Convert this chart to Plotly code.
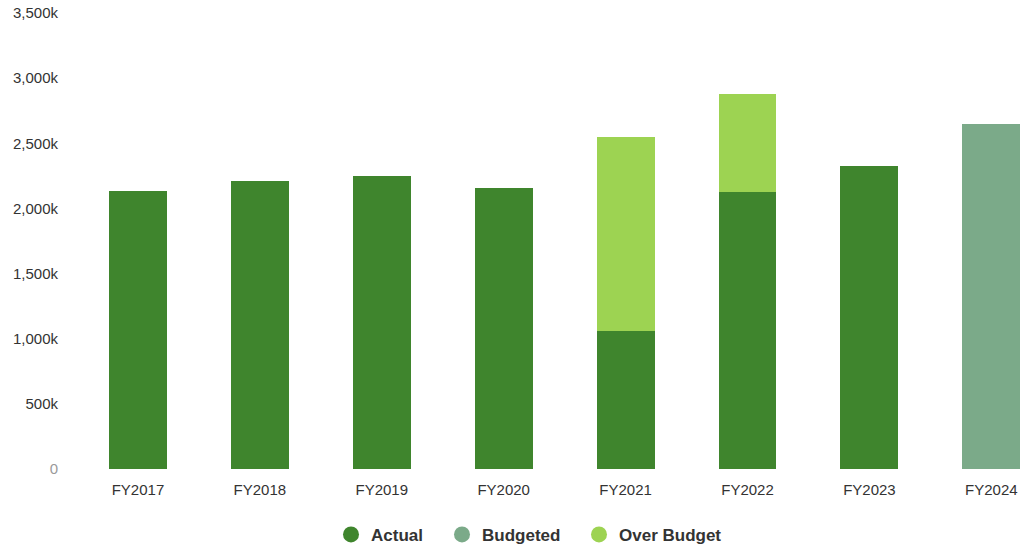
import plotly.graph_objects as go

# Fiscal years and spend (in thousands)
years = ["FY2017", "FY2018", "FY2019", "FY2020", "FY2021", "FY2022", "FY2023", "FY2024"]
actual = [2130, 2210, 2250, 2160, 1060, 2125, 2325, None]
budgeted = [None, None, None, None, None, None, None, 2645]
over_budget = [None, None, None, None, 1490, 750, None, None]

y_tick_values = [0, 500, 1000, 1500, 2000, 2500, 3000, 3500]
y_tick_labels = ["<span style='color:#9a9a9a'>0</span>", "500k", "1,000k", "1,500k",
                 "2,000k", "2,500k", "3,000k", "3,500k"]

c_actual = "#3f852d"
c_budget = "#7baa89"
c_over = "#9dd352"

series = [("Actual", actual, c_actual, "legend"),
          ("Budgeted", budgeted, c_budget, "legend2"),
          ("Over Budget", over_budget, c_over, "legend3")]

fig = go.Figure()
for name, vals, col, _ in series:
    fig.add_trace(go.Bar(x=years, y=vals, name=name, marker_color=col,
                         marker_line_width=0, width=0.475, showlegend=False))

# circular legend keys, one legend box per entry
for name, _, col, lg in series:
    fig.add_trace(go.Scatter(x=[None], y=[None], mode="markers", name=name, legend=lg,
                             marker=dict(symbol="circle", size=16, color=col)))

legend_font = dict(size=17, color="#333333", weight="bold")


def legend_box(xpix):
    return dict(orientation="h", xref="container", yref="container",
                x=xpix / 1023, xanchor="left", y=0.024, yanchor="middle",
                font=legend_font, itemclick=False, bgcolor="rgba(0,0,0,0)")


fig.update_layout(
    barmode="stack",
    width=1023, height=548,
    margin=dict(l=77, r=0, t=13, b=79),
    plot_bgcolor="white", paper_bgcolor="white",
    font=dict(family="Liberation Sans, Arial, sans-serif", color="#333333", size=15),
    showlegend=True,
    legend=legend_box(331),
    legend2=legend_box(442),
    legend3=legend_box(579),
    xaxis=dict(range=[-0.5, 7.26], showgrid=False, zeroline=False, showline=False,
               ticklabelstandoff=10, tickfont=dict(size=15)),
    yaxis=dict(range=[0, 3500], tickvals=y_tick_values, ticktext=y_tick_labels,
               showgrid=False, zeroline=False, showline=False,
               ticklabelstandoff=18, tickfont=dict(size=15)),
)

fig.write_html("out.html")
